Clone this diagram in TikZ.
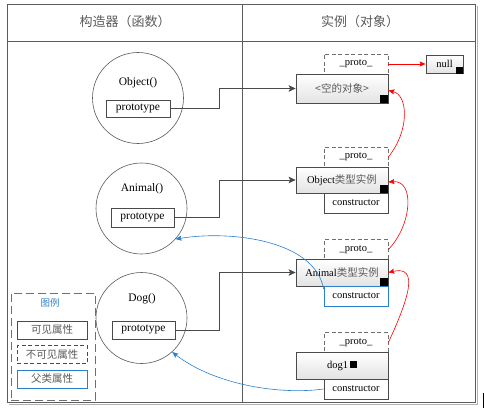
\documentclass[tikz,border=0pt]{standalone}
\usepackage{fontspec}
\setmainfont{Liberation Serif}
\newfontfamily\cjk{Noto Sans CJK SC}
\usetikzlibrary{shadows,arrows.meta}
\definecolor{ln}{HTML}{4A4A4A}
\definecolor{circ}{HTML}{5A5A5A}
\definecolor{txtgray}{HTML}{5A5A5A}
\definecolor{jsblue}{HTML}{2A7FCB}
\newcommand{\zhtext}[1]{{\cjk\color{txtgray}#1}}
\tikzset{
  inst/.style={draw=ln, line width=0.7pt, top color=white, bottom color=gray!22,
    drop shadow={shadow xshift=1.2pt,shadow yshift=-1.2pt,opacity=0.25},
    minimum width=92pt, minimum height=27pt, inner sep=0pt,
    font=\fontsize{10.5}{12}\selectfont},
  protobox/.style={draw=ln!80, dash pattern=on 4pt off 2.5pt, line width=0.8pt, fill=white,
    minimum width=64pt, minimum height=20pt, inner sep=0pt,
    font=\fontsize{10.5}{12}\selectfont},
  ctorbox/.style={draw=ln, line width=0.7pt, fill=white,
    minimum width=64pt, minimum height=20pt, inner sep=0pt,
    font=\fontsize{10.5}{12}\selectfont},
  sq/.style={fill=black, minimum size=8pt, inner sep=0pt, anchor=south east},
  ctorfn/.style={draw=circ, circle, line width=0.6pt, minimum size=91pt, inner sep=0pt},
  fnlabel/.style={font=\fontsize{11.5}{13}\selectfont, inner sep=0pt},
  ptbox/.style={draw=ln, line width=0.7pt, fill=white, minimum width=63pt, minimum height=18pt,
    inner sep=0pt, font=\fontsize{11.5}{13}\selectfont},
  conn/.style={draw=ln, line width=0.8pt, -{Stealth[length=7pt,width=6.5pt,inset=1.5pt]}},
  redarr/.style={draw=red, line width=0.6pt, -{Stealth[length=6pt,width=5pt,inset=1pt]}},
  bluearr/.style={draw=jsblue, line width=0.6pt, -{Stealth[length=6pt,width=5pt,inset=1pt]}},
  legbox/.style={draw=ln, line width=0.7pt, fill=white, minimum width=70pt, minimum height=18pt,
    inner sep=0pt, font=\fontsize{10.5}{12}\selectfont},
  hdr/.style={font=\fontsize{13}{15}\selectfont, inner sep=0pt},
}
\begin{document}
\begin{tikzpicture}[x=1pt,y=-1pt]
\useasboundingbox (0,0) rectangle (484,409);
% frame
\draw[gray!60, line width=0.8pt] (9,404) -- (477,404) -- (477,6);
\draw[ln!90, line width=0.9pt] (7,4) rectangle (475,402);
\draw[ln!90, line width=0.9pt] (7,41.5) -- (475,41.5);
\draw[ln!90, line width=0.9pt] (242.5,4) -- (242.5,402);
\node[hdr] (h1) at (125,22) {\zhtext{构造器（函数）}};
\node[hdr] (h2) at (360,22) {\zhtext{实例（对象）}};
\fill (482.7,393) rectangle (484.6,408);

% constructors (functions)
\node[ctorfn] (cobj) at (138,98) {};
\node[fnlabel] (lobj) at (138,83) {Object()};
\node[ptbox, minimum width=64pt, minimum height=17pt] (pt1) at (138,108.5) {prototype};

\node[ctorfn] (canimal) at (141.5,208.5) {};
\node[fnlabel] (lanimal) at (142,189) {Animal()};
\node[ptbox, minimum height=19pt] (pt2) at (142.5,217.5) {prototype};

\node[ctorfn] (cdog) at (141.5,318) {};
\node[fnlabel] (ldog) at (142,299) {Dog()};
\node[ptbox] (pt3) at (143.5,330) {prototype};

% instances
\node[protobox] (pr0) at (356,64) {\_proto\_};
\node[inst, minimum height=29pt] (empty) at (342,88.5) {\zhtext{<空的对象>}};
\node[sq] (s0) at ([xshift=-0.3pt,yshift=0.3pt]empty.south east) {};
\node[inst, minimum width=37pt, minimum height=18pt] (null) at (444.5,64) {null};
\node[sq, minimum size=7.5pt] (sn) at ([yshift=-1pt]null.south east) {};

\node[protobox] (pr1) at (356,157) {\_proto\_};
\node[inst, minimum height=26pt] (oinst) at (342,180) {Object\zhtext{类型实例}};
\node[sq] (s1) at ([xshift=-0.3pt,yshift=0.3pt]oinst.south east) {};
\node[ctorbox] (ct1) at (356,203) {constructor};

\node[protobox] (pr2) at (356,249.5) {\_proto\_};
\node[inst] (ainst) at (342,272.5) {Animal\zhtext{类型实例}};
\node[sq] (s2) at ([xshift=-0.3pt,yshift=0.3pt]ainst.south east) {};
\node[ctorbox, draw=jsblue] (ct2) at (356,296) {constructor};

\node[protobox] (pr3) at (356,342.5) {\_proto\_};
\node[inst] (dinst) at (342,365.5) {dog1\,\rule{7pt}{7pt}};
\node[ctorbox] (ct3) at (356,389) {constructor};

% prototype links
\coordinate (kx) at (219,0);
\draw[conn] (pt1.east) -- (pt1.east -| kx) |- (empty.west);
\draw[conn] (pt2.east) -- (pt2.east -| kx) |- (oinst.west);
\draw[conn] (pt3.east) -- (pt3.east -| kx) |- (ainst.west);

% proto chain
\draw[redarr] (pr0.east) -- (null.west);
\draw[redarr] (pr1.east) .. controls (410,130) and (408,95) .. ([yshift=-2pt]empty.east);
\draw[redarr] (pr2.east) .. controls (412,225) and (415,180) .. ([yshift=-2pt]oinst.east);
\draw[redarr] (pr3.east) .. controls (408,300) and (420,265) .. (ainst.east);

% constructor links
\draw[bluearr] (ct2.168) .. controls (315,240) and (230,230) .. (canimal.-42);
\draw[bluearr] (ct3.west) .. controls (280,395) and (215,385) .. (cdog.-48);

% legend
\node[draw=ln!80, dash pattern=on 8pt off 4pt, line width=0.8pt, minimum width=84pt, minimum height=107pt, inner sep=0pt] (leg) at (53,346.5) {};
\node[font=\fontsize{9.5}{11}\selectfont, text=jsblue, inner sep=0pt] (legt) at (50,303) {\cjk 图例};
\node[legbox] (lg1) at (52,330) {\zhtext{可见属性}};
\node[legbox, dash pattern=on 4pt off 2.5pt] (lg2) at (52,354.5) {\zhtext{不可见属性}};
\node[legbox, draw=jsblue] (lg3) at (52,379) {\zhtext{父类属性}};
\end{tikzpicture}
\end{document}
